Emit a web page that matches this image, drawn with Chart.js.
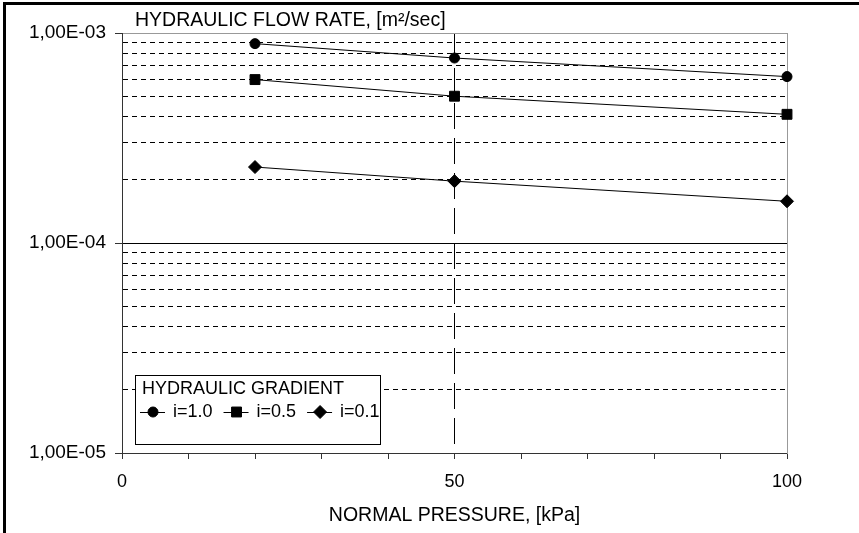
<!DOCTYPE html>
<html>
<head>
<meta charset="utf-8">
<script src="https://cdn.jsdelivr.net/npm/chart.js@4.4.1/dist/chart.umd.min.js"></script>
<style>
  html, body { margin: 0; padding: 0; background: #fff; }
  #wrap { position: relative; width: 859px; height: 533px; overflow: hidden; }
  #frame { position: absolute; left: 3px; top: 2px; right: -10px; bottom: -10px;
           border-left: 3px solid #000; border-top: 3px solid #000; }
  canvas { position: absolute; left: 0; top: 0; }
</style>
</head>
<body>
<div id="wrap">
  <div id="frame"></div>
  <canvas id="chart" width="859" height="533"></canvas>
</div>
<script>
// values
const pressure = [20, 50, 100];
const flowI10 = [8.9e-4, 7.6e-4, 6.2e-4];
const flowI05 = [6.0e-4, 5.0e-4, 4.1e-4];
const flowI01 = [2.3e-4, 1.97e-4, 1.58e-4];
const seriesNames = ['i=1.0', 'i=0.5', 'i=0.1'];
const xTickLabels = [0, 50, 100];
const yTickLabels = [1e-5, 1e-4, 1e-3];

const FONT = '"Liberation Sans", Arial, sans-serif';
Chart.defaults.font.family = FONT;
Chart.defaults.color = '#000';

const near = (a, b) => Math.abs(a - b) / b < 1e-6;
const isMajor = v => yTickLabels.some(t => near(v, t));
// only 2..9 x 10^n get a dashed line
const isMinor = v => {
    const m = v / Math.pow(10, Math.floor(Math.log10(v) + 1e-9));
    return !isMajor(v) && Math.abs(m - Math.round(m)) < 1e-6;
};

// 1e-3 -> "1,00E-03"
function fmtExp(v) {
    const e = Math.round(Math.log10(v));
    const m = v / Math.pow(10, e);
    return m.toFixed(2).replace('.', ',') + 'E' + (e < 0 ? '-' : '+') + String(Math.abs(e)).padStart(2, '0');
}

const toPoints = ys => pressure.map((p, i) => ({ x: p, y: ys[i] }));

const datasets = [
    { label: seriesNames[0], data: toPoints(flowI10), pointStyle: 'circle', pointRadius: 5 },
    { label: seriesNames[1], data: toPoints(flowI05), pointStyle: 'rect', pointRadius: 7 },
    { label: seriesNames[2], data: toPoints(flowI01), pointStyle: 'rectRot', pointRadius: 6.5 }
].map(d => Object.assign(d, {
    borderColor: '#000',
    borderWidth: 1,
    backgroundColor: '#000',
    pointBackgroundColor: '#000',
    pointBorderColor: '#000',
    pointBorderWidth: 1,
    showLine: true,
    clip: false
}));

function drawMarker(ctx, style, r, x, y) {
    if (Chart.helpers && Chart.helpers.drawPoint) {
        Chart.helpers.drawPoint(ctx, { pointStyle: style, radius: r, rotation: 0, borderWidth: 1 }, x, y);
        return;
    }
    ctx.beginPath();
    ctx.arc(x, y, r, 0, Math.PI * 2);
    ctx.fill();
}

// y axis caption at the top and the framed legend in the lower left
const annotations = {
    id: 'annotations',
    afterDraw(chart) {
        const ctx = chart.ctx;
        const area = chart.chartArea;
        ctx.save();
        ctx.fillStyle = '#000';
        ctx.strokeStyle = '#000';
        ctx.textBaseline = 'middle';
        ctx.font = '19.5px ' + FONT;
        ctx.fillText('HYDRAULIC FLOW RATE, [m²/sec]', area.left + 13, 21);

        // legend box
        const bx = area.left + 13, by = area.bottom - 78, bw = 245, bh = 69;
        ctx.fillStyle = '#fff';
        ctx.fillRect(bx, by, bw, bh);
        ctx.lineWidth = 1;
        ctx.strokeRect(bx + 0.5, by + 0.5, bw, bh);
        ctx.fillStyle = '#000';
        ctx.font = '18px ' + FONT;
        ctx.fillText('HYDRAULIC GRADIENT', bx + 7, by + 14);

        let x = bx + 5;
        const y = by + 37;
        chart.data.datasets.forEach(ds => {
            ctx.beginPath();
            ctx.moveTo(x, y + 0.5);
            ctx.lineTo(x + 25, y + 0.5);
            ctx.stroke();
            drawMarker(ctx, ds.pointStyle, ds.pointRadius, x + 13, y);
            ctx.fillStyle = '#000';
            ctx.fillText(ds.label, x + 33, y);
            x += 33 + ctx.measureText(ds.label).width + 11;
        });
        ctx.restore();
    }
};

new Chart(document.getElementById('chart'), {
    type: 'line',
    data: { datasets: datasets },
    options: {
        responsive: false,
        animation: false,
        layout: { padding: 0 },
        plugins: {
            legend: { display: false },
            title: { display: false },
            tooltip: { enabled: false }
        },
        scales: {
            x: {
                type: 'linear',
                position: 'bottom',
                min: 0,
                max: 100,
                ticks: {
                    stepSize: 10,
                    autoSkip: false,
                    maxRotation: 0,
                    padding: 12,
                    font: { size: 18 },
                    callback: v => xTickLabels.includes(v) ? String(v) : ''
                },
                grid: {
                    color: c => (c.tick && c.tick.value === 50) ? '#000' : 'transparent',
                    tickColor: '#333',
                    tickLength: 6,
                    tickBorderDash: []
                },
                border: { color: '#333', width: 1, dash: [26, 9] },
                title: {
                    display: true,
                    text: 'NORMAL PRESSURE, [kPa]',
                    font: { size: 19.5 },
                    padding: { top: 0, bottom: 6 }
                },
                afterFit: s => { s.height = 80; }
            },
            x2: {
                type: 'linear',
                position: 'top',
                min: 0,
                max: 100,
                ticks: { display: false },
                grid: { display: false },
                border: { color: '#999', width: 1 },
                afterFit: s => { s.height = 33; }
            },
            y: {
                type: 'logarithmic',
                position: 'left',
                min: 1e-5,
                max: 1e-3,
                ticks: {
                    autoSkip: false,
                    padding: 9,
                    font: { size: 19 },
                    callback: v => isMajor(v) ? fmtExp(v) : ''
                },
                grid: {
                    color: c => (c.tick && isMinor(c.tick.value)) ? '#000' : 'transparent',
                    tickColor: c => (c.tick && isMajor(c.tick.value)) ? '#333' : 'transparent',
                    tickLength: 7,
                    tickBorderDash: []
                },
                border: { color: '#333', width: 1, dash: [5, 4] },
                afterFit: s => { s.width = 122; }
            },
            y2: {
                type: 'logarithmic',
                position: 'right',
                min: 1e-5,
                max: 1e-3,
                ticks: { display: false, autoSkip: false },
                grid: {
                    drawTicks: false,
                    color: c => (c.tick && near(c.tick.value, 1e-4)) ? '#000' : 'transparent'
                },
                border: { color: '#999', width: 1 },
                afterFit: s => { s.width = 72; }
            }
        }
    },
    plugins: [annotations]
});
</script>
</body>
</html>
